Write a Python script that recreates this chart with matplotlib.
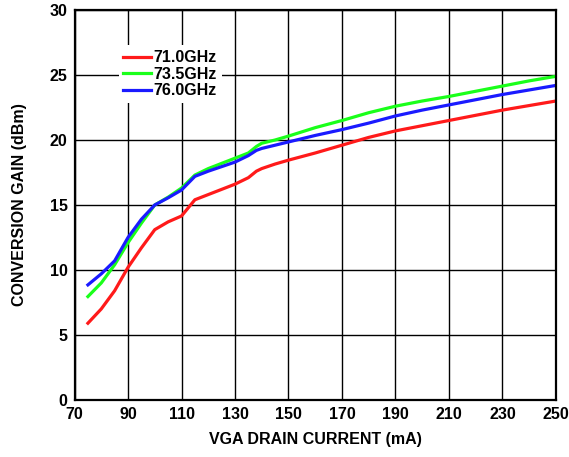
import matplotlib
matplotlib.use('Agg')
import matplotlib.pyplot as plt

plt.rcParams['font.family'] = ['Liberation Sans', 'DejaVu Sans']

# VGA drain current (mA) and conversion gain (dB) per LO frequency
current = [75, 80, 85, 90, 95, 100, 105, 110, 115, 120, 125, 130, 135, 138, 140,
           145, 150, 160, 170, 180, 190, 200, 210, 220, 230, 240, 250]
gain_71 = [5.9, 7.0, 8.4, 10.2, 11.7, 13.1, 13.7, 14.15, 15.4, 15.8, 16.2, 16.6, 17.1, 17.6, 17.8,
           18.15, 18.45, 19.0, 19.6, 20.2, 20.7, 21.1, 21.5, 21.9, 22.3, 22.65, 23.0]
gain_735 = [7.95, 9.0, 10.4, 12.1, 13.6, 15.0, 15.6, 16.3, 17.3, 17.8, 18.2, 18.6, 19.0, 19.5, 19.75,
            20.0, 20.3, 20.95, 21.5, 22.1, 22.6, 23.0, 23.35, 23.75, 24.15, 24.55, 24.9]
gain_76 = [8.85, 9.7, 10.7, 12.5, 13.9, 15.0, 15.55, 16.15, 17.2, 17.6, 17.95, 18.3, 18.8, 19.2, 19.35,
           19.6, 19.85, 20.35, 20.8, 21.3, 21.85, 22.3, 22.7, 23.1, 23.5, 23.85, 24.2]

x_ticks = list(range(70, 251, 20))
y_ticks = list(range(0, 31, 5))

fig = plt.figure(figsize=(5.69, 4.57), dpi=100)
ax = fig.add_axes([0.131, 0.125, 0.846, 0.853])

ax.plot(current, gain_71, color='#ff1a1a', linewidth=2.3, label='71.0GHz')
ax.plot(current, gain_735, color='#1aff1a', linewidth=2.3, label='73.5GHz')
ax.plot(current, gain_76, color='#1a1aff', linewidth=2.3, label='76.0GHz')

ax.set_xlim(70, 250)
ax.set_ylim(0, 30)
ax.set_xticks(x_ticks)
ax.set_yticks(y_ticks)
ax.grid(True, color='black', linewidth=1.0)
ax.set_axisbelow(True)
ax.tick_params(length=0, pad=5, labelsize=11.5)
for lbl in ax.get_xticklabels() + ax.get_yticklabels():
    lbl.set_fontweight('bold')
for sp in ax.spines.values():
    sp.set_linewidth(1.6)

ax.set_xlabel('VGA DRAIN CURRENT (mA)', fontsize=11.5, fontweight='bold', labelpad=7)
ax.set_ylabel('CONVERSION GAIN (dBm)', fontsize=11.5, fontweight='bold', labelpad=16)

leg = ax.legend(loc='upper left', bbox_to_anchor=(0.075, 0.93), frameon=True,
                fancybox=False, edgecolor='none', framealpha=1.0,
                handlelength=1.75, handletextpad=0.15, labelspacing=0.1,
                borderpad=0.3, prop={'weight': 'bold', 'size': 11.5})

fig.savefig('out.png', dpi=100)
